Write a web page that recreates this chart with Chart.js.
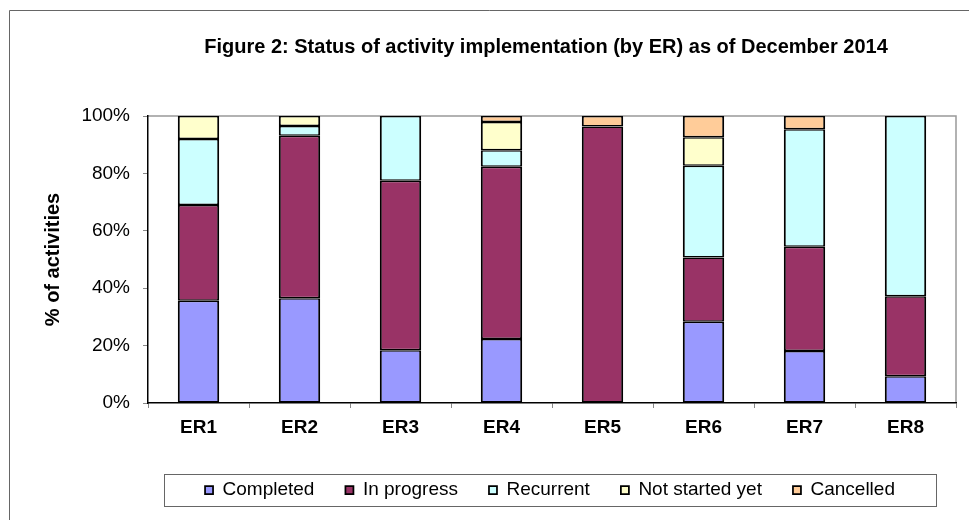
<!DOCTYPE html>
<html>
<head>
<meta charset="utf-8">
<script src="https://cdn.jsdelivr.net/npm/chart.js@4.4.1/dist/chart.umd.min.js"></script>
<style>
  html, body { margin: 0; padding: 0; background: #fff; }
  #wrap { width: 969px; height: 520px; position: relative; }
</style>
</head>
<body>
<div id="wrap"><canvas id="statusChart"></canvas></div>
<script>
const categories = ["ER1", "ER2", "ER3", "ER4", "ER5", "ER6", "ER7", "ER8"];
const completed  = [35.6, 36.5, 18.4, 22.3, 0, 28.3, 18.1, 9.3];
const inProgress = [33.4, 56.6, 59.0, 60.0, 96.3, 22.4, 36.3, 27.9];
const recurrent  = [23.0, 3.4, 22.6, 5.8, 0, 32.0, 41.0, 62.8];
const notStarted = [8.0, 3.5, 0, 9.8, 0, 9.9, 0, 0];
const cancelled  = [0, 0, 0, 2.1, 3.7, 7.4, 4.6, 0];
const yTicks = [0, 20, 40, 60, 80, 100];

const chartTitle = "Figure 2: Status of activity implementation (by ER) as of December 2014";
const FONT = "Arial, 'Liberation Sans', sans-serif";

// frame, plot border, title and legend box
const decorations = {
  id: "decorations",
  afterLayout(chart) {
    const lg = chart.legend;
    const ca = chart.chartArea;
    const lab = lg.options.labels;
    const cx = (ca.left + ca.right) / 2 - 2;
    const w = lg.right - lg.left;
    lg.left = cx - w / 2;
    lg.right = cx + w / 2;
    lg.top = 490 - lab.padding - lab.font.size / 2;
  },
  beforeDraw(chart) {
    const ctx = chart.ctx;
    const ca = chart.chartArea;
    ctx.save();
    ctx.fillStyle = "#fff";
    ctx.fillRect(0, 0, chart.width, chart.height);
    ctx.strokeStyle = "#666";
    ctx.lineWidth = 1;
    ctx.beginPath();
    ctx.moveTo(9.5, chart.height);
    ctx.lineTo(9.5, 10.5);
    ctx.lineTo(chart.width, 10.5);
    ctx.stroke();
    // plot area border (top/right gray)
    ctx.strokeStyle = "#999";
    ctx.lineWidth = 1.5;
    ctx.beginPath();
    ctx.moveTo(ca.left, ca.top);
    ctx.lineTo(ca.right, ca.top);
    ctx.lineTo(ca.right, ca.bottom);
    ctx.stroke();
    // legend box
    const cx = (ca.left + ca.right) / 2 - 2;
    ctx.strokeStyle = "#666";
    ctx.lineWidth = 1;
    ctx.strokeRect(Math.round(cx - 386) + 0.5, 474.5, 772, 32);
    // title
    ctx.fillStyle = "#000";
    ctx.font = "bold 20px " + FONT;
    ctx.textAlign = "center";
    ctx.textBaseline = "middle";
    ctx.fillText(chartTitle, cx - 4, 47);
    ctx.restore();
  }
};

function makeSet(label, data, color) {
  return {
    label: label,
    data: data,
    backgroundColor: color,
    borderColor: "#000",
    borderWidth: { left: 2, right: 2, top: 1.5, bottom: 1.5 },
    borderSkipped: false,
    barPercentage: 0.41,
    categoryPercentage: 1.0
  };
}

new Chart(document.getElementById("statusChart"), {
  type: "bar",
  data: {
    labels: categories,
    datasets: [
      makeSet("Completed", completed, "#9999FF"),
      makeSet("In progress", inProgress, "#993366"),
      makeSet("Recurrent", recurrent, "#CCFFFF"),
      makeSet("Not started yet", notStarted, "#FFFFCC"),
      makeSet("Cancelled", cancelled, "#FFCC99")
    ]
  },
  options: {
    responsive: true,
    maintainAspectRatio: false,
    animation: false,
    layout: { padding: { top: 116, left: 9, right: 13, bottom: 21 } },
    plugins: {
      title: { display: false },
      tooltip: { enabled: false },
      legend: {
        position: "bottom",
        labels: {
          boxWidth: 8,
          boxHeight: 8,
          padding: 31,
          color: "#000",
          font: { family: FONT, size: 19 }
        }
      }
    },
    scales: {
      x: {
        stacked: true,
        afterFit(scale) { scale.height = 36; },
        grid: {
          drawOnChartArea: false,
          drawTicks: true,
          tickLength: 5,
          color: "#888",
          offset: true
        },
        border: { color: "#000", width: 1.5 },
        ticks: {
          color: "#000",
          padding: 8,
          font: { family: FONT, size: 19, weight: "bold" }
        }
      },
      y: {
        stacked: true,
        min: 0,
        max: 100,
        afterFit(scale) { scale.width = 139; },
        afterBuildTicks(scale) { scale.ticks = yTicks.map(v => ({ value: v })); },
        grid: {
          drawOnChartArea: false,
          drawTicks: true,
          tickLength: 5,
          color: "#888"
        },
        border: { color: "#000", width: 1.5 },
        ticks: {
          color: "#000",
          padding: 13,
          font: { family: FONT, size: 19 },
          callback: v => v + "%"
        },
        title: {
          display: true,
          text: "% of activities",
          color: "#000",
          padding: { top: 32, bottom: 0 },
          font: { family: FONT, size: 20, weight: "bold" }
        }
      }
    }
  },
  plugins: [decorations]
});
</script>
</body>
</html>
